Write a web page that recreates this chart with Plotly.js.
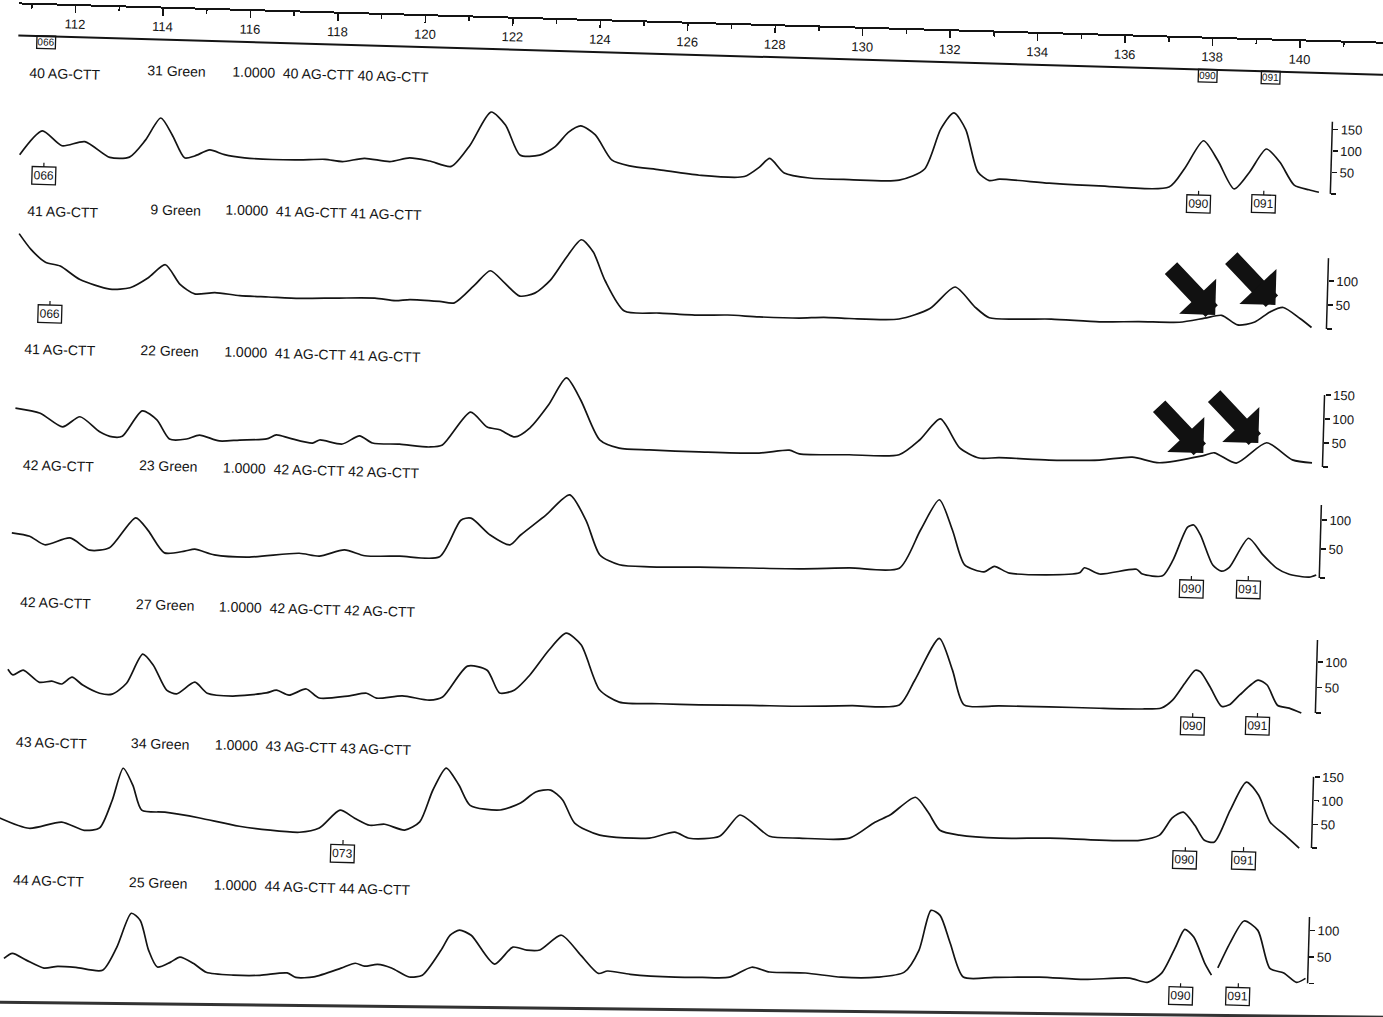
<!DOCTYPE html>
<html><head><meta charset="utf-8">
<script src="https://cdn.plot.ly/plotly-3.0.1.min.js"></script>
<style>
html,body{margin:0;padding:0;background:#fff;width:1383px;height:1017px;overflow:hidden}
#wrap{position:absolute;left:-20px;top:-20px;width:1423px;height:1057px;transform:rotate(1.65deg);transform-origin:711.5px 528.5px}
</style></head><body><div id="wrap"></div>
<script>
// ---------------- data (size in bp, signal in RFU) ----------------
const rulerMajor = [112,114,116,118,120,122,124,126,128,130,132,134,136,138,140];
const rulerMinor = [111,113,115,117,119,121,123,125,127,129,131,133,135,137,139,141];

const laneNames = ['40 AG-CTT','41 AG-CTT','41 AG-CTT','42 AG-CTT','42 AG-CTT','43 AG-CTT','44 AG-CTT'];
const dyeNames  = ['31 Green','9 Green','22 Green','23 Green','27 Green','34 Green','25 Green'];
const scaleText = '1.0000';

const r1Bp = [110.82,111.32,111.78,112.30,112.88,113.33,113.68,114.02,114.29,114.59,114.82,115.16,115.50,115.96,116.60,117.22,117.80,118.20,118.70,119.28,119.73,120.19,120.69,121.10,121.56,121.90,122.25,122.70,123.05,123.34,123.62,123.96,124.35,124.76,125.45,126.36,127.39,127.73,127.96,128.30,128.88,129.79,130.93,131.50,131.85,132.14,132.42,132.72,132.99,133.22,134.36,135.50,137.10,137.45,137.86,138.20,138.59,138.93,139.30,139.62,139.96,140.30,140.53];
const r1Rfu = [3,60,27,38,3,5,45,98,60,7,12,27,17,11,9,10,13,9,18,12,22,16,5,55,134,105,36,37,58,92,108,88,31,18,11,1,1,24,45,12,2,1,3,30,125,163,125,28,8,12,6,3,5,50,115,70,5,45,100,70,18,8,3];

const r2Bp = [110.86,111.14,111.48,111.82,112.28,112.97,113.43,113.84,114.22,114.57,114.91,115.37,115.94,116.60,117.31,118.20,119.03,119.50,119.83,120.51,120.85,121.31,121.65,121.99,122.34,122.68,123.03,123.37,123.71,123.99,124.28,124.74,125.54,126.45,127.10,127.82,128.74,129.30,129.88,131.02,131.71,132.28,132.74,133.08,133.77,134.50,135.60,136.50,137.43,138.00,138.39,138.76,139.15,139.49,139.79,140.18,140.45];
const r2Rfu = [120,88,62,55,28,10,14,36,64,24,5,9,4,3,2,5,7,3,6,4,2,41,71,46,20,27,55,102,141,116,57,-5,-7,-9,-7,-9,-9,-6,-7,-5,18,65,25,3,2,4,1,4,5,15,22,3,10,32,42,20,2];

const r3Bp = [110.89,111.46,111.98,112.37,112.83,113.13,113.35,113.79,114.13,114.43,114.82,115.11,115.57,116.03,116.65,116.87,117.17,117.70,117.86,118.38,118.77,119.07,119.69,120.37,120.67,121.29,121.68,121.97,122.32,122.66,123.07,123.46,123.80,124.26,124.71,125.40,126.54,127.91,128.60,128.83,129.97,131.11,131.57,132.03,132.49,132.94,133.40,134.54,135.69,136.44,137.06,138.04,138.31,138.82,139.50,140.10,140.55];
const r3Rfu = [44,35,8,30,0,-10,-8,46,28,-11,-10,-1,-12,-9,-5,4,-2,-11,-4,-11,7,-7,-8,-12,-7,63,33,28,14,34,83,140,95,13,-3,-5,-6,-5,3,-4,-3,0,32,77,18,-2,0,-2,1,9,-1,16,23,3,47,13,8];

const r4Bp = [110.89,111.30,111.65,112.22,112.68,113.13,113.71,114.00,114.39,114.85,115.08,115.53,116.33,117.47,117.93,118.50,118.97,119.77,120.68,121.14,121.37,121.82,122.28,122.51,123.08,123.61,124.00,124.34,124.79,125.48,126.62,127.80,128.91,130.05,131.19,131.65,132.06,132.38,132.68,133.13,133.36,133.71,135.31,135.42,135.77,136.61,136.75,137.21,137.44,137.75,137.89,138.05,138.35,138.55,138.73,139.15,139.49,139.81,140.10,140.56,140.72];
const r4Rfu = [13,8,-6,7,-13,-8,45,24,-14,-10,-6,-15,-17,-8,-12,0,-9,-8,-7,57,61,33,17,34,70,106,63,4,-12,-14,-12,-11,-10,-6,-4,63,116,64,5,-6,4,-7,-3,6,-4,6,-2,-4,24,81,85,68,17,7,14,65,37,15,5,1,5];

const r5Bp = [110.89,111.01,111.24,111.62,111.90,112.13,112.36,112.61,113.00,113.29,113.61,113.96,114.21,114.53,114.76,115.17,115.46,116.04,116.81,117.04,117.33,117.72,118.02,118.71,119.10,119.33,119.92,120.54,120.84,121.39,121.84,122.14,122.48,122.82,123.24,123.62,123.97,124.42,124.88,125.80,126.71,127.90,128.99,130.20,131.28,131.62,132.15,132.47,132.76,133.56,134.70,135.85,136.83,137.27,137.52,137.79,138.02,138.14,138.37,138.64,138.82,139.05,139.46,139.67,139.92,140.19,140.47];
const r5Rfu = [12,1,11,-12,-9,-14,0,-15,-30,-31,-9,49,28,-20,-27,-3,-24,-28,-20,-14,-23,-10,-27,-21,-15,-24,-18,-25,-18,44,37,-7,0,30,80,114,92,5,-18,-19,-19,-17,-16,-12,-8,42,125,64,-4,-4,-3,-3,-2,1,17,51,77,74,45,8,11,31,61,52,13,8,-1];

const r6Bp = [110.80,111.48,112.22,112.74,113.09,113.36,113.59,113.82,114.04,114.57,115.37,116.28,117.66,118.11,118.57,118.91,119.26,119.60,120.06,120.40,120.68,120.97,121.27,121.54,122.23,122.69,123.03,123.37,123.65,123.94,124.52,125.66,126.23,126.57,127.26,127.71,128.06,128.40,129.08,130.23,130.80,131.14,131.71,132.01,132.29,132.74,133.66,134.80,135.94,136.86,137.31,137.59,137.84,138.11,138.34,138.57,138.91,139.26,139.55,139.83,140.17,140.51];
const r6Rfu = [-16,-36,-21,-37,-31,28,96,61,9,6,-4,-19,-28,-18,21,5,-9,-6,-17,1,69,116,81,39,31,47,71,76,56,8,-16,-19,-5,-17,-11,35,15,-8,-10,-7,28,44,83,52,15,6,2,5,4,6,18,55,68,41,10,7,75,135,108,52,26,-1];

const r7Bp = [110.99,111.18,111.50,111.91,112.22,112.64,113.25,113.56,113.87,114.08,114.29,114.50,114.80,115.01,115.32,115.62,116.24,116.85,117.47,117.67,118.08,118.70,119.02,119.23,119.53,119.85,120.26,120.56,120.97,121.17,121.38,121.65,122.20,122.61,122.93,123.23,123.71,124.17,124.58,124.79,125.31,126.34,126.96,127.58,128.08,128.49,129.31,130.13,130.96,131.57,131.89,132.14,132.35,132.60,132.92,133.63,134.66,135.69,136.72,137.13,137.45,137.75,137.95,138.16,138.43,138.59,138.66,138.73,139.00,139.30,139.62,139.92,140.24,140.54,140.74];
const r7Rfu = [-24,-14,-26,-40,-36,-37,-41,3,68,55,-1,-32,-22,-12,-23,-39,-43,-42,-36,-44,-42,-24,-14,-19,-15,-21,-37,-33,15,44,54,45,-8,25,20,21,50,13,-20,-15,-20,-23,-22,-20,0,-8,-8,-14,-12,-1,41,117,108,56,-7,-6,-3,-5,0,-7,11,61,95,81,32,10,null,24,73,114,97,26,18,1,9];

const rowTicks = [[0,50,100,150],[0,50,100],[0,50,100,150],[0,50,100],[0,50,100],[0,50,100,150],[0,50,100]];

// allele boxes: row 0 = clipped boxes under the ruler
const boxText = ['066','090','091','066','090','091','066','090','091','090','091','073','090','091','090','091'];
const boxBp   = [111.36,137.92,139.34,111.38,137.78,139.27,111.61,137.87,139.17,137.99,139.47,118.66,137.91,139.24,137.89,139.21];
const boxRow  = [0,0,0,1,1,1,2,4,4,5,5,6,6,6,7,7];

// arrows (tips at size in bp)
const arrowBp  = [138.24,139.61,138.06,139.31];
const arrowRow = [2,2,3,3];

// ---------------- layout geometry (pixels, unrotated frame) ----------------
const FONT = 'Liberation Sans, Arial, Helvetica, sans-serif';
const INK = '#141414';
const W = 1423, H = 1057, OX = 20, OY = 20;
const PXBP = 43.75, BP0 = 110.597;
const pxp = x => (x + OX) / W;
const py  = y => 1 - (y + OY) / H;
const AXIS_X = 1321;

const rowGeom = [
  {zero:175.6, s:0.43,  top:90,  bot:210, axisTop:168},
  {zero:310.7, s:0.48,  top:240, bot:330, axisTop:148},
  {zero:448.8, s:0.48,  top:375, bot:470, axisTop:150},
  {zero:559.9, s:0.58,  top:485, bot:580, axisTop:126},
  {zero:694.9, s:0.51,  top:620, bot:720, axisTop:143},
  {zero:830.1, s:0.475, top:758, bot:855, axisTop:150},
  {zero:965.3, s:0.53,  top:895, bot:995, axisTop:125}
];
const labelPos = [
  [[14.5,92.1],[133.4,86.3],[217.5,84.8]],
  [[16.5,229.9],[140.4,224.9],[214.5,223.4]],
  [[18.4,368.2],[133.5,366.1],[217.6,364.5]],
  [[19.8,484.2],[135.8,481.1],[219.9,480.5]],
  [[20.7,621.4],[136.8,620.2],[219.9,619.6]],
  [[20.7,760.5],[135.8,759.3],[219.9,757.7]],
  [[21.7,898.6],[137.8,898.4],[222.9,897.8]]
];
const boxY   = [0,0,0,194.6,189.4,187.5,332.5,574.6,573.0,711.6,709.7,863.0,845.8,844.1,981.9,980.3];
const arrowY = [299.9,288.2,438.3,426.7];
const RULER_TOP = 23, RULER_BOTTOM = 55;

const series = [[r1Bp,r1Rfu],[r2Bp,r2Rfu],[r3Bp,r3Rfu],[r4Bp,r4Rfu],[r5Bp,r5Rfu],[r6Bp,r6Rfu],[r7Bp,r7Rfu]];

const traces = [];
const layout = {
  width: W, height: H,
  margin: {l:0, r:0, t:0, b:0},
  paper_bgcolor: '#ffffff',
  plot_bgcolor: 'rgba(0,0,0,0)',
  showlegend: false,
  hovermode: false,
  font: {family: FONT, color: INK},
  xaxis: {
    domain: [pxp(5), 1],
    range: [BP0 + 5 / PXBP, BP0 + (W - OX) / PXBP],
    anchor: 'free', position: py(RULER_TOP), side: 'bottom',
    showline: true, linewidth: 2, linecolor: INK,
    ticks: 'outside', ticklen: 7, tickwidth: 1.5, tickcolor: INK,
    tickvals: rulerMajor, ticktext: rulerMajor.map(String),
    tickfont: {size: 13, family: FONT, color: INK},
    minor: {tickvals: rulerMinor, ticks: 'outside', ticklen: 4, tickwidth: 1.5, tickcolor: INK, showgrid: false},
    showgrid: false, zeroline: false, fixedrange: true
  },
  shapes: [],
  annotations: []
};

// ruler lower line and page edge
layout.shapes.push({type:'line', xref:'paper', yref:'paper', x0:pxp(5), x1:1, y0:py(RULER_BOTTOM), y1:py(RULER_BOTTOM), line:{color:INK, width:2}});
layout.shapes.push({type:'line', xref:'paper', yref:'paper', x0:0, x1:1, y0:py(1022.5), y1:py(997), line:{color:'#333', width:3}});

series.forEach(([bp, rfu], i) => {
  const g = rowGeom[i];
  const yname = i === 0 ? 'y' : 'y' + (i + 1);
  const key = i === 0 ? 'yaxis' : 'yaxis' + (i + 1);
  traces.push({
    type: 'scatter', mode: 'lines', x: bp, y: rfu,
    xaxis: 'x', yaxis: yname, connectgaps: false,
    line: {color: INK, width: 1.7, shape: 'spline', smoothing: 0.7},
    hoverinfo: 'skip'
  });
  layout[key] = {
    domain: [py(g.bot), py(g.top)],
    range: [(g.zero - g.bot) / g.s, (g.zero - g.top) / g.s],
    anchor: 'free', position: pxp(AXIS_X), side: 'right',
    showgrid: false, zeroline: false, showline: false,
    ticks: 'outside', ticklen: 5, tickwidth: 1.5, tickcolor: INK,
    tickvals: rowTicks[i], ticktext: rowTicks[i].map(v => v ? String(v) : ''),
    tickfont: {size: 13, family: FONT, color: INK},
    fixedrange: true
  };
  layout.shapes.push({type:'line', xref:'paper', yref:yname, x0:pxp(AXIS_X), x1:pxp(AXIS_X), y0:0, y1:g.axisTop, line:{color:INK, width:1.5}});

  const texts = [laneNames[i], dyeNames[i], scaleText + '\u00a0\u00a0' + laneNames[i] + '\u00a0' + laneNames[i]];
  texts.forEach((t, j) => {
    const p = labelPos[i][j];
    layout.annotations.push({
      text: t, xref:'paper', yref:'paper', x: pxp(p[0]), y: py(p[1]),
      xanchor:'left', yanchor:'middle', showarrow:false,
      font:{size:14, family:FONT, color:INK}
    });
  });
});

// allele boxes
boxText.forEach((t, k) => {
  if (boxRow[k] === 0) {
    layout.annotations.push({
      text: t, xref:'x', yref:'paper', x: boxBp[k], y: py(RULER_BOTTOM - 1.5),
      xanchor:'center', yanchor:'top', showarrow:false,
      bordercolor: INK, borderwidth: 1.3, borderpad: 0,
      font:{size:10, family:FONT, color:INK}
    });
  } else {
    layout.annotations.push({
      text: t, xref:'x', yref:'paper', x: boxBp[k], y: py(boxY[k] - 13),
      showarrow:true, arrowhead:0, arrowwidth:1.2, arrowcolor:INK, ax:0, ay:13, standoff:0,
      bordercolor: INK, borderwidth: 1.3, borderpad: 1,
      font:{size:12, family:FONT, color:INK}
    });
  }
});

// block arrows
arrowBp.forEach((b, k) => {
  layout.annotations.push({
    text: '', xref:'x', yref:'paper', x: b, y: py(arrowY[k]),
    showarrow:true, arrowhead:1, arrowsize:0.5, arrowwidth:17, arrowcolor:'#111',
    ax:-47, ay:-47, standoff:0
  });
});

Plotly.newPlot('wrap', traces, layout, {staticPlot:true, displayModeBar:false});
</script>
</body></html>
